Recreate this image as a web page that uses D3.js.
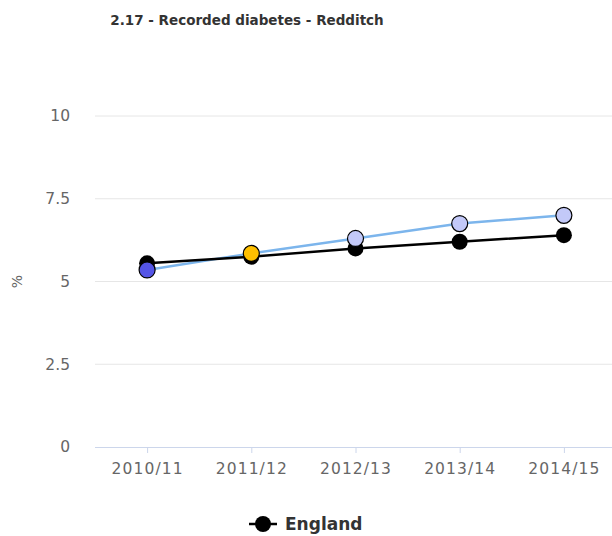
<!DOCTYPE html>
<html>
<head>
<meta charset="utf-8">
<script src="https://cdn.jsdelivr.net/npm/d3@7"></script>
<style>
  html, body { margin: 0; padding: 0; background: #fff; }
  svg { display: block; font-family: "DejaVu Sans", "Lucida Grande", sans-serif; }
</style>
</head>
<body>
<svg id="chart" width="612" height="536"></svg>
<script>
// Recorded diabetes prevalence (%), Redditch vs England
const periods = ["2010/11", "2011/12", "2012/13", "2013/14", "2014/15"];
const redditch = [5.35, 5.85, 6.3, 6.75, 7.0];
const england = [5.55, 5.75, 6.0, 6.2, 6.4];
// comparison with England: lower / similar / higher
const redditchStatus = ["lower", "similar", "higher", "higher", "higher"];
const yTicks = [0, 2.5, 5, 7.5, 10];
const yTickLabels = ["0", "2.5", "5", "7.5", "10"];

const statusColour = { lower: "#5555e6", similar: "#ffc000", higher: "#c3c9f8" };

(function draw() {
  const svg = d3.select("#chart");
  const plotLeft = 95, plotRight = 616, plotTop = 116, plotBottom = 447;

  const x = d3.scalePoint().domain(periods).range([plotLeft, plotRight]).padding(0.5);
  const y = d3.scaleLinear().domain([0, 10]).range([plotBottom, plotTop]);

  // title
  svg.append("text")
    .attr("x", 247).attr("y", 25)
    .attr("text-anchor", "middle")
    .attr("font-size", 13.5).attr("font-weight", "bold")
    .attr("fill", "#333")
    .text("2.17 - Recorded diabetes - Redditch");

  // horizontal gridlines
  svg.append("g").selectAll("line")
    .data(yTicks.filter(d => d !== 0))
    .join("line")
    .attr("x1", plotLeft).attr("x2", 612)
    .attr("y1", d => y(d)).attr("y2", d => y(d))
    .attr("stroke", "#e6e6e6").attr("stroke-width", 1);

  // y axis labels
  const yAxis = d3.axisLeft(y).tickValues(yTicks)
    .tickFormat((d, i) => yTickLabels[i]).tickSize(0).tickPadding(25);
  svg.append("g")
    .attr("transform", `translate(${plotLeft},0)`)
    .call(yAxis)
    .call(g => g.select(".domain").remove())
    .call(g => g.selectAll("text").attr("font-size", 15.5).attr("fill", "#666")
      .attr("font-family", "DejaVu Sans, sans-serif"));

  // y axis title
  svg.append("text")
    .attr("transform", `translate(22,${y(5)}) rotate(-90)`)
    .attr("text-anchor", "middle")
    .attr("font-size", 14).attr("fill", "#666")
    .text("%");

  // x axis
  const xAxis = d3.axisBottom(x).tickSize(6).tickPadding(10);
  svg.append("g")
    .attr("transform", `translate(0,${plotBottom})`)
    .call(xAxis)
    .call(g => g.select(".domain").attr("d", `M${plotLeft},0.5H612`).attr("stroke", "#ccd6eb"))
    .call(g => g.selectAll(".tick line").attr("stroke", "#ccd6eb"))
    .call(g => g.selectAll("text").attr("font-size", 15.5).attr("fill", "#666")
      .attr("letter-spacing", 1.1)
      .attr("font-family", "DejaVu Sans, sans-serif"));

  const line = d3.line().x((d, i) => x(periods[i])).y(d => y(d));

  // Redditch line
  svg.append("path")
    .datum(redditch)
    .attr("d", line)
    .attr("fill", "none").attr("stroke", "#7cb5ec").attr("stroke-width", 2.5);

  // England line and markers
  svg.append("path")
    .datum(england)
    .attr("d", line)
    .attr("fill", "none").attr("stroke", "#000").attr("stroke-width", 2.5);
  svg.append("g").selectAll("circle")
    .data(england)
    .join("circle")
    .attr("cx", (d, i) => x(periods[i])).attr("cy", d => y(d))
    .attr("r", 8).attr("fill", "#000");

  // Redditch markers coloured by comparison with England
  svg.append("g").selectAll("circle")
    .data(redditch)
    .join("circle")
    .attr("cx", (d, i) => x(periods[i])).attr("cy", d => y(d))
    .attr("r", 8)
    .attr("fill", (d, i) => statusColour[redditchStatus[i]])
    .attr("stroke", "#000").attr("stroke-width", 1.2);

  // legend
  const lg = svg.append("g").attr("transform", "translate(0,524)");
  lg.append("line").attr("x1", 249).attr("x2", 277).attr("y1", 0).attr("y2", 0)
    .attr("stroke", "#000").attr("stroke-width", 2.5);
  lg.append("circle").attr("cx", 263).attr("cy", 0).attr("r", 8).attr("fill", "#000");
  lg.append("text").attr("x", 285).attr("y", 6)
    .attr("font-size", 17).attr("font-weight", "bold").attr("fill", "#333")
    .text("England");
})();
</script>
</body>
</html>
